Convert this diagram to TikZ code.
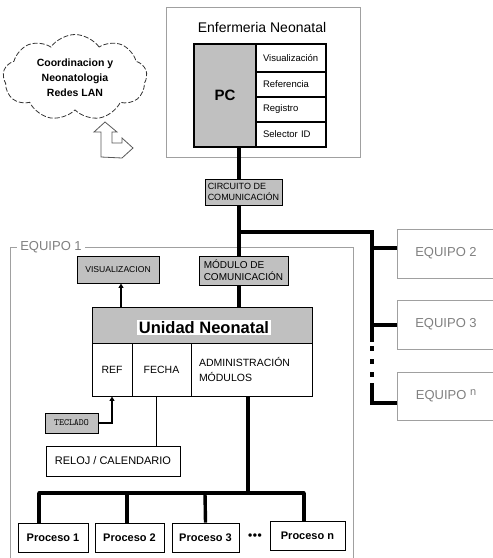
\documentclass[tikz,border=0pt]{standalone}
\usepackage{fontspec}
\setmainfont{Liberation Sans}
\usetikzlibrary{shapes.symbols,arrows.meta,calc}
\definecolor{boxgray}{HTML}{C0C0C0}
\definecolor{framegray}{HTML}{A0A0A0}
\definecolor{textgray}{HTML}{808080}
\begin{document}
\begin{tikzpicture}[x=1pt,y=-1pt,
  bx/.style={draw,rectangle,inner sep=0pt,line width=0.9pt},
  gbx/.style={bx,fill=boxgray},
  equipobox/.style={draw=framegray,rectangle,inner sep=0pt,line width=0.9pt,text=textgray,font=\fontsize{13}{15}\selectfont},
  bus/.style={line width=3.4pt},
  thinln/.style={line width=1.1pt},
  arr/.style={line width=1.8pt,-{Triangle[length=4.5pt,width=5pt]}},
  procbox/.style={bx,minimum height=29,font=\bfseries\fontsize{11}{13}\selectfont}
]
\useasboundingbox (0,0) rectangle (493,558);
\clip (0,0) rectangle (493,558);

% helper x positions
\coordinate (busx) at (239,0);
\coordinate (vx) at (121,0);
\coordinate (fx) at (156.5,0);
\coordinate (ax) at (248,0);
\coordinate (d2x) at (127,0);

% cloud
\node[cloud, draw=black!80, dash pattern=on 5pt off 2pt, line width=0.8pt, cloud puffs=9, cloud puff arc=110, aspect=1.7,
      minimum width=144, minimum height=86, inner sep=0pt, align=center,
      font=\bfseries\fontsize{10.5}{15}\selectfont] (cloud) at (75,77.5) {Coordinacion y\\Neonatologia\\Redes LAN};

% bent double arrow
\draw[draw=black!65, fill=white, line width=0.8pt, line join=miter]
  (105,122) -- (117,132) -- (112,132) -- (112,143) -- (122,143) -- (122,138) -- (133,148) -- (122,158) -- (101,157) -- (101,132) -- (94,132) -- cycle;

% Enfermeria Neonatal
\node[draw=framegray, line width=0.9pt, minimum width=194, minimum height=150, inner sep=0pt] (enf) at (263,82) {};
\node[font=\fontsize{14}{16}\selectfont, inner sep=0pt] (enft) at (262,27) {Enfermeria Neonatal};
\node[gbx, line width=1.2pt, minimum width=62, minimum height=103, font=\bfseries\fontsize{15}{17}\selectfont] (pc) at (225,95.5) {PC};
\begin{scope}[every node/.style={bx, line width=1.2pt, text width=56, inner xsep=7pt, align=left, font=\fontsize{9.5}{11}\selectfont}]
\node[minimum height=28] (r1) at (291,58) {Visualización};
\node[minimum height=25] (r2) at (291,84.5) {Referencia};
\node[minimum height=25] (r3) at (291,109.5) {Registro};
\node[minimum height=25] (r4) at (291,134.5) {Selector ID};
\end{scope}

% Circuito de comunicacion
\node[gbx, minimum width=77, minimum height=26, align=left, font=\fontsize{9}{11}\selectfont] (circ) at (243.5,192) {CIRCUITO DE\\COMUNICACIÓN};
\draw[bus] (pc.south -| busx) -- (circ.north -| busx);

% trunk
\coordinate (j0) at (239,232);
\coordinate (t0) at (372,232);
\coordinate (td1) at (372,342);
\coordinate (td2) at (372,383);
\coordinate (b2) at (372,248);
\coordinate (b3) at (372,325);
\coordinate (bn) at (372,403);

% Equipos 2,3,n
\node[equipobox, minimum width=106, minimum height=49] (eq2) at (450,253.5) {EQUIPO 2\hspace*{8pt}};
\node[equipobox, minimum width=106, minimum height=49] (eq3) at (450,324.5) {EQUIPO 3\hspace*{8pt}};
\node[equipobox, minimum width=106, minimum height=48] (eqn) at (450,396) {EQUIPO \raisebox{4pt}{\fontsize{11}{12}\selectfont n}\hspace*{8pt}};

\draw[bus, line join=miter] (circ.south -| busx) -- (j0) -- (t0) -- (td1);
\draw[bus, dash pattern=on 5pt off 8pt, dash phase=9pt] (td1) -- (td2);
\draw[bus, line join=miter] (td2) -- (bn) -- (bn -| eqn.west);
\draw[bus] (b2) -- (b2 -| eq2.west);
\draw[bus] (b3) -- (b3 -| eq3.west);

% EQUIPO 1 frame
\node[draw=framegray, line width=0.9pt, minimum width=343, minimum height=330, inner sep=0pt] (eq1) at (181.5,412) {};
\node[fill=white, inner xsep=3pt, inner ysep=1pt, text=textgray, font=\fontsize{13}{15}\selectfont] (eq1t) at (51,247) {EQUIPO 1};

% Visualizacion and modulo
\node[gbx, minimum width=82, minimum height=27, font=\fontsize{8.6}{10}\selectfont] (vis) at (118,269.5) {VISUALIZACION};
\node[gbx, minimum width=89, minimum height=29, align=left, font=\fontsize{10}{12}\selectfont] (mod) at (243.5,270.5) {MÓDULO DE\\COMUNICACIÓN};
\draw[bus] (j0) -- (mod.north -| busx);

% Unidad Neonatal
\node[gbx, minimum width=220, minimum height=36] (head) at (202,325) {};
\node[fill=white, inner xsep=2pt, inner ysep=1.5pt, font=\bfseries\fontsize{16.5}{18}\selectfont] (headt) at (204,327.5) {Unidad Neonatal};
\node[bx, minimum width=40, minimum height=53, font=\fontsize{10.5}{12.5}\selectfont] (ref) at (112,369.5) {REF};
\node[bx, minimum width=59, minimum height=53, font=\fontsize{10.5}{12.5}\selectfont] (fecha) at (161.5,369.5) {FECHA};
\node[bx, minimum width=121, minimum height=53, text width=105, inner xsep=8pt, align=left, font=\fontsize{10.5}{15}\selectfont] (admin) at (251.5,369.5) {ADMINISTRACIÓN\\MÓDULOS};

\draw[bus] (mod.south -| busx) -- (head.north -| busx);
\draw[arr] (head.north -| vx) -- (vis.south -| vx);

% Teclado
\node[gbx, minimum width=53, minimum height=20, font=\ttfamily\fontsize{9.5}{11}\selectfont] (tec) at (71.5,423) {TECLADO};
\draw[arr, line width=1.6pt, line join=miter] (tec.east) -| (ref.south);

% Reloj
\node[bx, minimum width=134, minimum height=30, font=\fontsize{11}{13}\selectfont] (reloj) at (113,461) {RELOJ / CALENDARIO};
\draw[thinln] (fecha.south -| fx) -- (reloj.north -| fx);

% Procesos
\node[procbox, minimum width=70] (p1) at (53,537.5) {Proceso 1};
\node[procbox, minimum width=69] (p2) at (129.5,537.5) {Proceso 2};
\node[procbox, minimum width=67] (p3) at (205.5,537.5) {Proceso 3};
\node[procbox, minimum width=75] (pn) at (307.5,535.5) {Proceso n};
\node[inner sep=0pt, font=\bfseries\fontsize{12}{13}\selectfont] (dots) at (255,537) {•\kern0.5pt•\kern0.5pt•};

\coordinate (hb) at (248,493);
\coordinate (hl) at (39,493);
\coordinate (hr) at (304,493);
\draw[bus] (admin.south -| ax) -- (hb);
\draw[bus, line cap=round] (hl) -- (hr);
\draw[bus] (hl) -- (p1.north -| hl);
\draw[bus] (hb -| d2x) -- (p2.north -| d2x);
\draw[bus] (205,493) -- (p3.north);
\draw[bus] (hr) -- (pn.north -| hr);
\end{tikzpicture}
\end{document}
